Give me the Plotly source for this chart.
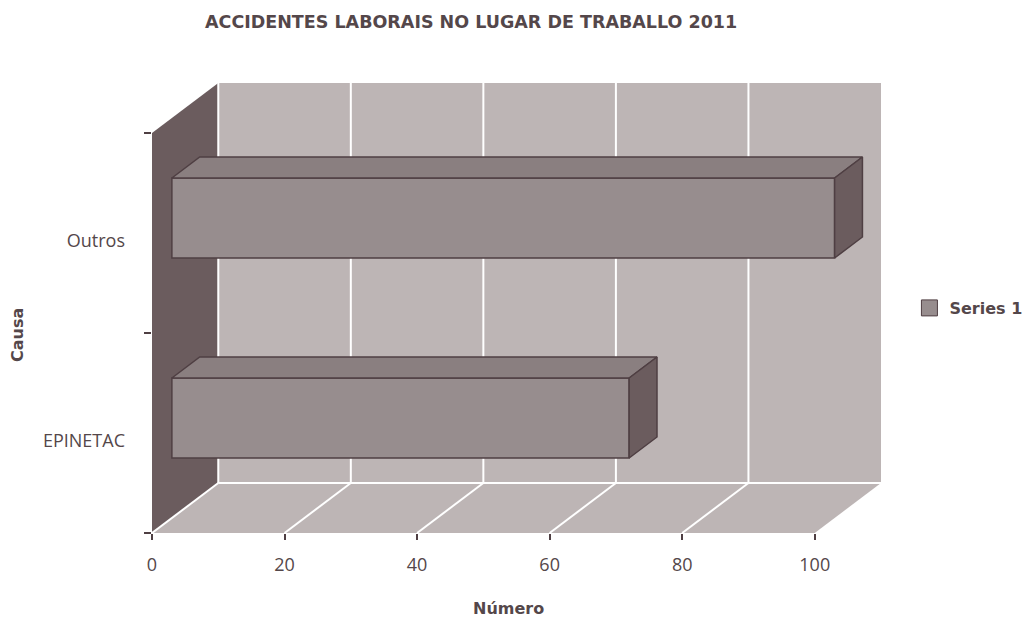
import plotly.graph_objects as go

# Data
categories = ["EPINETAC", "Outros"]
values = [69, 100]
series_name = "Series 1"
x_ticks = [0, 20, 40, 60, 80, 100]

# Pseudo-3D geometry (depth expressed in axis units)
DX, DY = 10, 0.25          # depth offset of the back wall
D0, D1 = 0.30, 0.72        # bar depth start / end as a fraction of the depth
BAR_W = 0.4
X_MAX = 100

WALL = "#bdb5b5"
SIDE_WALL = "#6b5c5e"
FRONT = "#978d8e"
TOP = "#8a7f80"
EDGE = "#4f3f43"
TEXT = "#54474a"
FONT = "Open Sans"
BOLD_FONT = "DejaVu Sans"

fig = go.Figure()

shapes = []
# left wall
shapes.append(dict(type="path", layer="below", line=dict(width=0), fillcolor=SIDE_WALL,
                   path=f"M 0 -0.5 L 0 1.5 L {DX} {1.5 + DY} L {DX} {-0.5 + DY} Z"))
# back wall
shapes.append(dict(type="rect", layer="below", line=dict(width=0), fillcolor=WALL,
                   x0=DX, x1=X_MAX + DX, y0=-0.5 + DY, y1=1.5 + DY))
# floor
shapes.append(dict(type="path", layer="below", line=dict(width=0), fillcolor=WALL,
                   path=f"M 0 -0.5 L {X_MAX} -0.5 L {X_MAX + DX} {-0.5 + DY} L {DX} {-0.5 + DY} Z"))
# gridlines on back wall and floor
for v in x_ticks[:-1]:
    shapes.append(dict(type="line", layer="below", line=dict(color="white", width=2),
                       x0=v + DX, x1=v + DX, y0=-0.5 + DY, y1=1.5 + DY))
    shapes.append(dict(type="line", layer="below", line=dict(color="white", width=2),
                       x0=v, x1=v + DX, y0=-0.5, y1=-0.5 + DY))
shapes.append(dict(type="line", layer="below", line=dict(color="white", width=2),
                   x0=DX, x1=X_MAX + DX, y0=-0.5 + DY, y1=-0.5 + DY))

# bar front faces
ypos = [i + DY * D0 for i in range(len(categories))]
fig.add_trace(go.Bar(
    orientation="h", x=values, y=ypos, base=[DX * D0] * len(values), width=BAR_W,
    marker=dict(color=FRONT, line=dict(color=EDGE, width=1.5)),
    showlegend=False, hoverinfo="skip"))

# bar top and side faces
dx, dy = DX * (D1 - D0), DY * (D1 - D0)
for v, y in zip(values, ypos):
    x0 = DX * D0
    top = y + BAR_W / 2
    bot = y - BAR_W / 2
    fig.add_trace(go.Scatter(
        x=[x0, x0 + v, x0 + v + dx, x0 + dx, x0],
        y=[top, top, top + dy, top + dy, top],
        mode="lines", fill="toself", fillcolor=TOP,
        line=dict(color=EDGE, width=1.5), showlegend=False, hoverinfo="skip"))
    fig.add_trace(go.Scatter(
        x=[x0 + v, x0 + v, x0 + v + dx, x0 + v + dx, x0 + v],
        y=[bot, top, top + dy, bot + dy, bot],
        mode="lines", fill="toself", fillcolor=SIDE_WALL,
        line=dict(color=EDGE, width=1.5), showlegend=False, hoverinfo="skip"))

# legend entry
fig.add_trace(go.Scatter(
    x=[None], y=[None], mode="markers", name=series_name,
    marker=dict(symbol="square", size=17, color=FRONT, line=dict(color=EDGE, width=1))))

LABEL_SHIFT = 0.04
fig.update_layout(
    width=1027, height=619,
    margin=dict(l=152, r=146, t=83, b=86, autoexpand=False),
    paper_bgcolor="white", plot_bgcolor="white",
    font=dict(family=FONT, color=TEXT),
    shapes=shapes,
    xaxis=dict(range=[0, X_MAX + DX], tickvals=x_ticks, ticks="outside", ticklen=6,
               tickcolor=EDGE, tickwidth=1.5, showgrid=False, zeroline=False, showline=False,
               ticklabelstandoff=9,
               tickfont=dict(size=18, color=TEXT, family=FONT), fixedrange=True),
    yaxis=dict(range=[-0.5, 1.5 + DY], tickvals=[i - LABEL_SHIFT for i in range(len(categories))],
               ticktext=categories, ticks="", showgrid=False, zeroline=False, showline=False,
               ticklabelstandoff=26,
               minor=dict(tickvals=[-0.5, 0.5, 1.5], ticks="outside", ticklen=7,
                          tickcolor=EDGE, tickwidth=1.5, showgrid=False),
               tickfont=dict(size=18, color=TEXT, family=FONT), fixedrange=True),
    legend=dict(x=1.039, y=0.5, xanchor="left", yanchor="middle",
                font=dict(size=16, color=TEXT, family=BOLD_FONT, weight="bold"),
                itemsizing="trace"),
    annotations=[
        dict(text="ACCIDENTES LABORAIS NO LUGAR DE TRABALLO 2011", xref="paper", yref="paper",
             x=(471 - 152) / 729, y=(533 - 22) / 450, xanchor="center", yanchor="middle",
             showarrow=False, font=dict(size=17.5, color=TEXT, family=BOLD_FONT, weight="bold")),
        dict(text="Número", xref="paper", yref="paper",
             x=(508 - 152) / 729, y=(533 - 608) / 450, xanchor="center", yanchor="middle",
             showarrow=False, font=dict(size=16, color=TEXT, family=BOLD_FONT, weight="bold")),
        dict(text="Causa", xref="paper", yref="paper", textangle=-90,
             x=(17 - 152) / 729, y=(533 - 335) / 450, xanchor="center", yanchor="middle",
             showarrow=False, font=dict(size=16, color=TEXT, family=BOLD_FONT, weight="bold")),
    ],
)

fig.write_html("out.html")
